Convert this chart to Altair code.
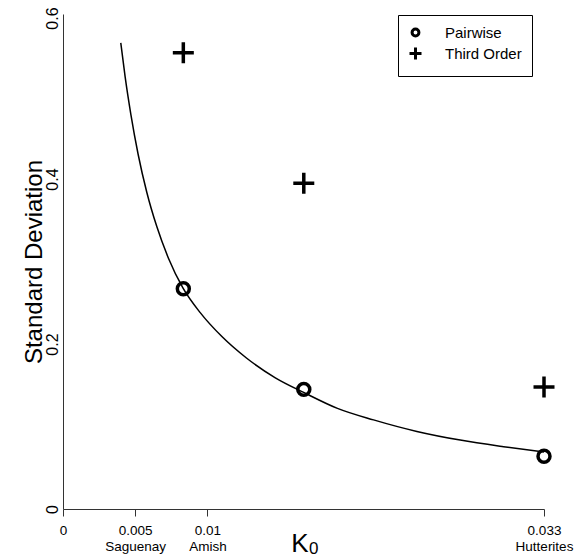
import altair as alt
import pandas as pd

FONT = "Liberation Sans"

# Data
k0 = [0.00833, 0.01667, 0.0333]
pairwise_sd = [0.267, 0.145, 0.064]
third_order_sd = [0.553, 0.395, 0.148]
series = ["Pairwise", "Third Order"]

curve_k0 = [0.0040, 0.0043, 0.0047, 0.0052, 0.0058, 0.0065, 0.0073, 0.0083,
            0.0095, 0.0110, 0.0127, 0.0147, 0.0167, 0.0190, 0.0215, 0.0245,
            0.0275, 0.0305, 0.0333]
curve_sd = [0.565, 0.524, 0.478, 0.430, 0.384, 0.342, 0.304, 0.268,
            0.238, 0.209, 0.183, 0.159, 0.141, 0.122, 0.108, 0.094,
            0.0835, 0.0755, 0.069]

x_ticks = [0, 0.005, 0.01, 0.0333]
x_tick_labels = ["0", "0.005", "0.01", "0.033"]
x_tick_pops = ["", "Saguenay", "Amish", "Hutterites"]
y_ticks = [0, 0.2, 0.4, 0.6]

points = pd.DataFrame({
    "K0": k0 + k0,
    "SD": pairwise_sd + third_order_sd,
    "Series": [series[0]] * len(k0) + [series[1]] * len(k0),
})
curve = pd.DataFrame({"K0": curve_k0, "SD": curve_sd})

# multi-line x labels
expr = ""
for v, a, b in zip(x_ticks, x_tick_labels, x_tick_pops):
    lab = f"['{a}','{b}']" if b else f"'{a}'"
    expr += f"abs(datum.value - {v}) < 1e-6 ? {lab} : "
expr += "''"

x_enc = alt.X("K0:Q", scale=alt.Scale(domain=[0, 0.0333], nice=False, zero=False),
              axis=alt.Axis(values=x_ticks, labelExpr=expr, title=None, grid=False,
                            tickSize=7, tickColor="#333", domainColor="#333",
                            labelFontSize=13.5, labelPadding=7, labelLineHeight=16,
                            labelFlush=False, labelOverlap=False, labelColor="black"))
y_enc = alt.Y("SD:Q", scale=alt.Scale(domain=[0, 0.6], nice=False),
              axis=alt.Axis(values=y_ticks, format="~g", title="Standard Deviation",
                            grid=False, ticks=False, domainColor="#333",
                            labelAngle=270, labelAlign="center", labelBaseline="alphabetic",
                            labelPadding=6, labelFontSize=16, labelColor="black",
                            labelFlush=False,
                            labelOffset={"condition": {"test": "datum.value >= 0.59", "value": 4},
                                         "value": 0},
                            titleAngle=270, titleAlign="center", titleBaseline="alphabetic",
                            titleX=-22, titleY=247.5, titleFontSize=24,
                            titleFontWeight="normal", titleColor="black"))

circle_path = "M0.57,0A0.57,0.57,0,1,1,-0.57,0A0.57,0.57,0,1,1,0.57,0Z"
plus_path = "M-1,0L1,0M0,-1L0,1"

line = alt.Chart(curve).mark_line(color="black", strokeWidth=1.5,
                                  interpolate="monotone").encode(x=x_enc, y=y_enc)

pts = alt.Chart(points).mark_point(size=441, strokeWidth=3.5, color="black",
                                   filled=False, opacity=1).encode(
    x="K0:Q", y="SD:Q",
    shape=alt.Shape("Series:N",
                    scale=alt.Scale(domain=series, range=[circle_path, plus_path]),
                    legend=alt.Legend(title=None, orient="none", legendX=335, legendY=1,
                                      strokeColor="black", fillColor="white",
                                      padding=10, labelFontSize=15, labelFont=FONT,
                                      labelColor="black",
                                      symbolSize=144, symbolStrokeWidth=3,
                                      symbolStrokeColor="black",
                                      labelOffset=22, rowPadding=-1)),
)

k_text = alt.Chart(pd.DataFrame({"t": ["K"]})).mark_text(
    font=FONT, fontSize=26, align="center", baseline="alphabetic", color="black"
).encode(x=alt.value(237), y=alt.value(538), text="t:N")
sub_text = alt.Chart(pd.DataFrame({"t": ["0"]})).mark_text(
    font=FONT, fontSize=17, align="left", baseline="alphabetic", color="black"
).encode(x=alt.value(246), y=alt.value(540), text="t:N")

chart = alt.layer(line, pts, k_text, sub_text).properties(
    width=481, height=495,
    autosize=alt.AutoSizeParams(type="none"),
    padding={"left": 55, "top": 6, "right": 34, "bottom": 48},
    background="white",
).configure_view(stroke=None).configure_axis(
    labelFont=FONT, titleFont=FONT
)

chart.save("out.html", embed_options={"renderer": "svg", "actions": False})
